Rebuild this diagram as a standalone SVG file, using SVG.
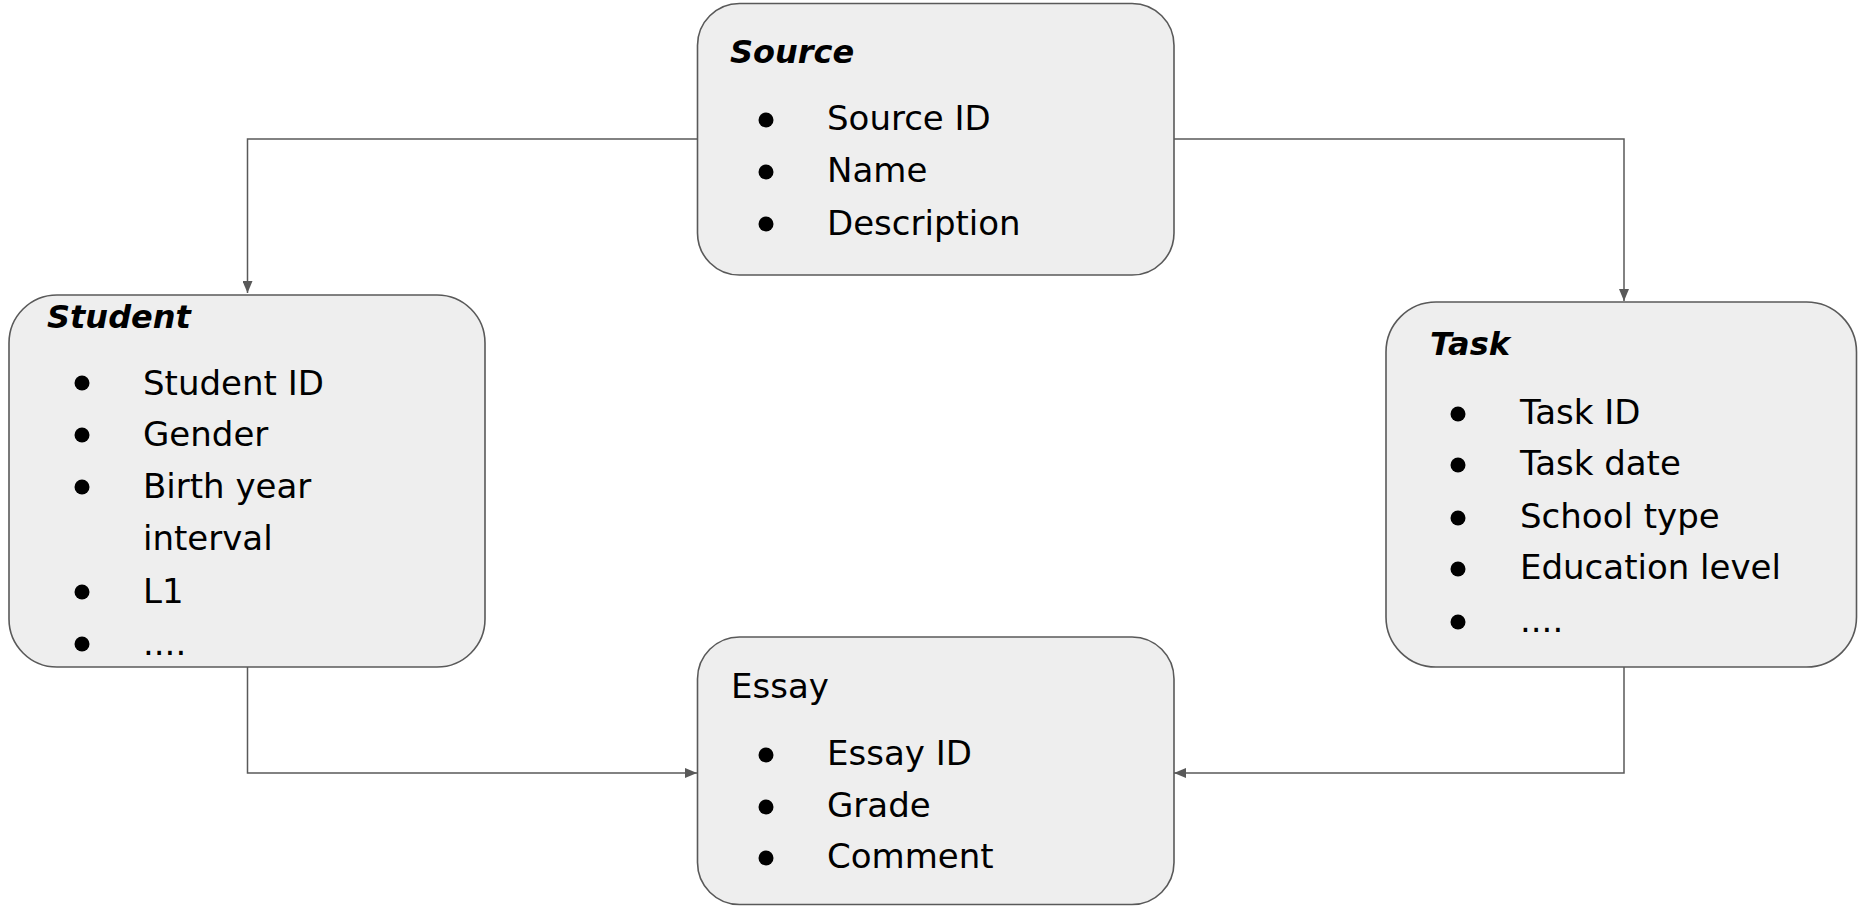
<svg xmlns="http://www.w3.org/2000/svg" width="1858" height="906" viewBox="0 0 1858 906">
<style>
.box{fill:#eeeeee;stroke:#595959;stroke-width:1.6}
.t{font-family:"DejaVu Sans",sans-serif;font-size:34px;fill:#000}
.h{font-family:"DejaVu Sans",sans-serif;font-size:32px;font-weight:bold;font-style:italic;fill:#000}
.b{fill:#000}
.c{fill:none;stroke:#595959;stroke-width:1.5}
</style>
<defs>
<marker id="arr" viewBox="0 0 12 10" refX="12" refY="5" markerWidth="12" markerHeight="10" markerUnits="userSpaceOnUse" orient="auto">
<path d="M0,0 L12,5 L0,10 Z" fill="#595959"/>
</marker>
</defs>
<rect width="1858" height="906" fill="#ffffff"/>
<g id="connectors">
<path class="c" d="M697,139 H247.5 V293" marker-end="url(#arr)"/>
<path class="c" d="M1174,139 H1624 V301" marker-end="url(#arr)"/>
<path class="c" d="M247.5,667 V773 H697" marker-end="url(#arr)"/>
<path class="c" d="M1624,667 V773 H1174" marker-end="url(#arr)"/>
</g>
<g id="source">
<rect class="box" x="697.5" y="3.5" width="476.5" height="271.5" rx="42" ry="42"/>
<text class="h" x="730" y="63">Source</text>
<circle class="b" cx="766" cy="120" r="7.5"/>
<circle class="b" cx="766" cy="172" r="7.5"/>
<circle class="b" cx="766" cy="224" r="7.5"/>
<text class="t" x="827" y="130">Source ID</text>
<text class="t" x="827" y="182">Name</text>
<text class="t" x="827" y="235">Description</text>
</g>
<g id="student">
<rect class="box" x="9" y="295" width="476" height="372" rx="48" ry="48"/>
<text class="h" x="47" y="328">Student</text>
<circle class="b" cx="82" cy="383" r="7.5"/>
<circle class="b" cx="82" cy="435" r="7.5"/>
<circle class="b" cx="82" cy="487" r="7.5"/>
<circle class="b" cx="82" cy="592" r="7.5"/>
<circle class="b" cx="82" cy="644" r="7.5"/>
<text class="t" x="143" y="395">Student ID</text>
<text class="t" x="143" y="446">Gender</text>
<text class="t" x="143" y="498">Birth year</text>
<text class="t" x="143" y="550">interval</text>
<text class="t" x="143" y="603">L1</text>
<text class="t" x="143" y="655">....</text>
</g>
<g id="task">
<rect class="box" x="1386" y="302" width="470.5" height="365" rx="50" ry="50"/>
<text class="h" x="1430" y="355">Task</text>
<circle class="b" cx="1458" cy="414" r="7.5"/>
<circle class="b" cx="1458" cy="465" r="7.5"/>
<circle class="b" cx="1458" cy="518" r="7.5"/>
<circle class="b" cx="1458" cy="569" r="7.5"/>
<circle class="b" cx="1458" cy="622" r="7.5"/>
<text class="t" x="1520" y="424">Task ID</text>
<text class="t" x="1520" y="475">Task date</text>
<text class="t" x="1520" y="528">School type</text>
<text class="t" x="1520" y="579">Education level</text>
<text class="t" x="1520" y="632">....</text>
</g>
<g id="essay">
<rect class="box" x="697.5" y="637" width="476.5" height="267.5" rx="42" ry="42"/>
<text class="t" x="731" y="698">Essay</text>
<circle class="b" cx="766" cy="755" r="7.5"/>
<circle class="b" cx="766" cy="807" r="7.5"/>
<circle class="b" cx="766" cy="858" r="7.5"/>
<text class="t" x="827" y="765">Essay ID</text>
<text class="t" x="827" y="817">Grade</text>
<text class="t" x="827" y="868">Comment</text>
</g>
</svg>
